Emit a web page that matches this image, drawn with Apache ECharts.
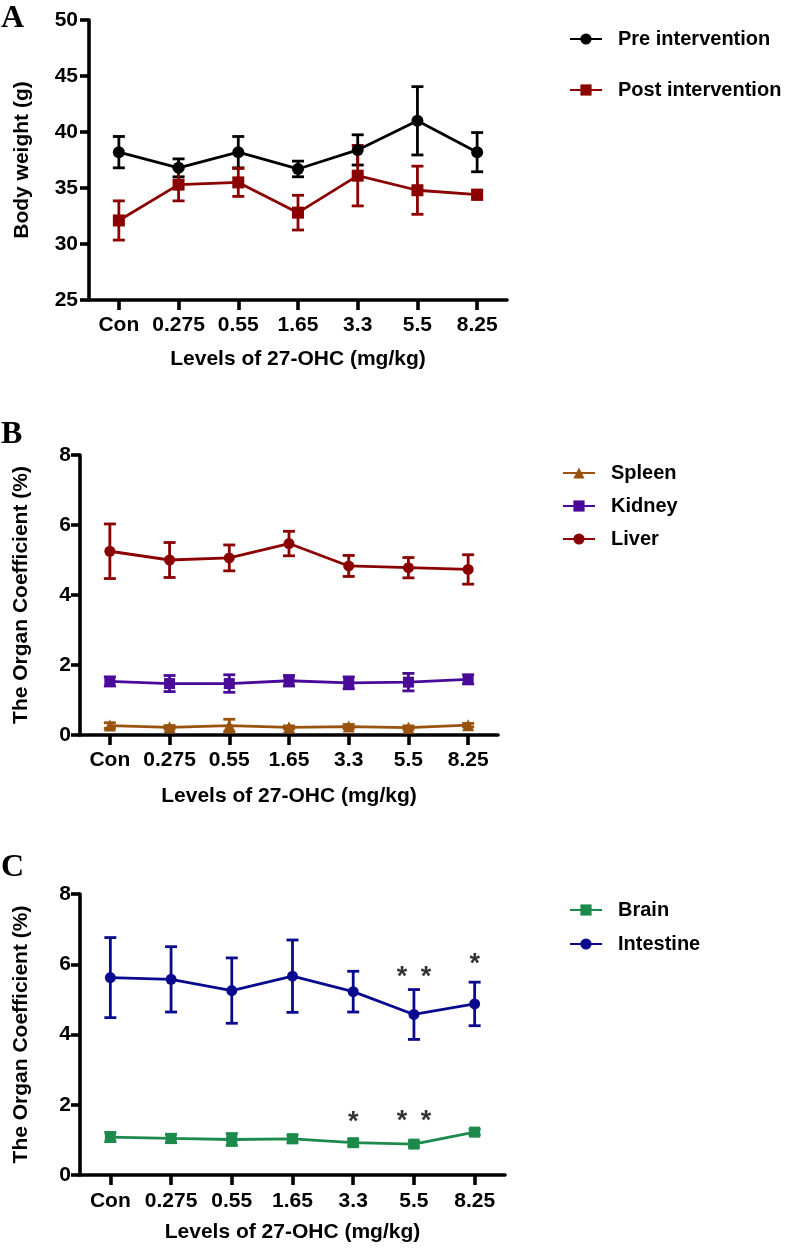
<!DOCTYPE html>
<html>
<head>
<meta charset="utf-8">
<script src="https://cdn.jsdelivr.net/npm/echarts@6/dist/echarts.min.js"></script>
<style>
html,body{margin:0;padding:0;background:#fff;}
#chart{width:787px;height:1250px;}
</style>
</head>
<body>
<div id="chart"></div>
<script>
// ---- data ----
var categories = ['Con', '0.275', '0.55', '1.65', '3.3', '5.5', '8.25'];
var weightTicks = [25, 30, 35, 40, 45, 50];
var organTicks = [0, 2, 4, 6, 8];

var preMean = [38.2, 36.8, 38.2, 36.7, 38.4, 41.0, 38.2];
var preSem  = [1.4, 0.8, 1.4, 0.7, 1.35, 3.05, 1.75];
var postMean = [32.1, 35.3, 35.5, 32.8, 36.1, 34.8, 34.4];
var postSem  = [1.75, 1.45, 1.25, 1.55, 2.7, 2.15, 0.4];

var spleenMean = [0.27, 0.22, 0.27, 0.22, 0.24, 0.21, 0.28];
var spleenSem  = [0.08, 0.05, 0.18, 0.04, 0.06, 0.05, 0.05];
var kidneyMean = [1.53, 1.47, 1.47, 1.55, 1.49, 1.51, 1.59];
var kidneySem  = [0.13, 0.23, 0.25, 0.15, 0.17, 0.25, 0.13];
var liverMean  = [5.25, 5.0, 5.06, 5.47, 4.83, 4.78, 4.73];
var liverSem   = [0.78, 0.5, 0.37, 0.35, 0.3, 0.29, 0.42];

var brainMean = [1.08, 1.04, 1.01, 1.03, 0.92, 0.88, 1.22];
var brainSem  = [0.13, 0.12, 0.17, 0.11, 0.09, 0.08, 0.08];
var intestineMean = [5.62, 5.57, 5.25, 5.66, 5.22, 4.57, 4.87];
var intestineSem  = [1.14, 0.93, 0.93, 1.03, 0.58, 0.71, 0.62];

// significance marks: [category index, y value, text]
var intestineStars = [[5, 5.78, '*\u2002*'], [6, 6.15, '*']];
var brainStars = [[4, 1.65, '*'], [5, 1.68, '*\u2002*']];

// ---- styling ----
var FONT = '"Liberation Sans", Arial, Helvetica, sans-serif';
var FS = 21;
var C_PRE = '#000000', C_POST = '#8B0000';
var C_SPLEEN = '#99530F', C_KIDNEY = '#4A0A99', C_LIVER = '#8B0000';
var C_BRAIN = '#1B8A4A', C_INTESTINE = '#0A0A8E';

function errData(mean, sem) {
  return mean.map(function (m, i) { return [i, m - sem[i], m + sem[i]]; });
}
function errSeries(mean, sem, color, idx) {
  return {
    type: 'custom', xAxisIndex: idx, yAxisIndex: idx, z: 2,
    encode: { x: 0, y: [1, 2] },
    data: errData(mean, sem),
    renderItem: function (params, api) {
      var x = api.value(0);
      var lo = api.coord([x, api.value(1)]);
      var hi = api.coord([x, api.value(2)]);
      var w = 6;
      var st = { stroke: color, lineWidth: 2.8 };
      return { type: 'group', children: [
        { type: 'line', shape: { x1: lo[0], y1: lo[1], x2: hi[0], y2: hi[1] }, style: st },
        { type: 'line', shape: { x1: lo[0] - w, y1: lo[1], x2: lo[0] + w, y2: lo[1] }, style: st },
        { type: 'line', shape: { x1: hi[0] - w, y1: hi[1], x2: hi[0] + w, y2: hi[1] }, style: st }
      ]};
    }
  };
}
function lineSeries(name, mean, color, symbol, size, idx) {
  return {
    name: name, type: 'line', xAxisIndex: idx, yAxisIndex: idx, z: 3,
    data: mean, symbol: symbol, symbolSize: size, showSymbol: true,
    lineStyle: { color: color, width: 2.8 },
    itemStyle: { color: color, borderWidth: 0 }
  };
}
function starSeries(stars, idx) {
  return {
    type: 'scatter', xAxisIndex: idx, yAxisIndex: idx, z: 4,
    data: stars, symbolSize: 1, itemStyle: { color: 'rgba(0,0,0,0)' },
    silent: true,
    label: { show: true, position: 'inside', offset: [0, 6],
      formatter: function (p) { return p.data[2]; },
      color: '#000', fontFamily: FONT, fontSize: 27, fontWeight: 'bold' }
  };
}

var axisLine = { show: true, lineStyle: { color: '#000', width: 3.6 } };
function xAx(idx, gap, margin) {
  return {
    type: 'category', gridIndex: idx, data: categories, boundaryGap: true,
    axisLine: axisLine,
    axisTick: { show: true, alignWithLabel: true, length: 10, lineStyle: { color: '#000', width: 3.6 } },
    axisLabel: { color: '#000', fontFamily: FONT, fontWeight: 'bold', fontSize: FS, margin: margin, interval: 0 },
    splitLine: { show: false },
    name: 'Levels of 27-OHC (mg/kg)', nameLocation: 'middle', nameGap: gap,
    nameTextStyle: { color: '#000', fontFamily: FONT, fontWeight: 'bold', fontSize: FS }
  };
}
function yAx(idx, ticks, name, gap, margin) {
  return {
    type: 'value', gridIndex: idx, min: ticks[0], max: ticks[ticks.length - 1],
    interval: ticks[1] - ticks[0],
    axisLine: axisLine,
    axisTick: { show: true, length: 9, lineStyle: { color: '#000', width: 3.6 } },
    axisLabel: { color: '#000', fontFamily: FONT, fontWeight: 'bold', fontSize: FS, margin: margin },
    splitLine: { show: false },
    name: name, nameLocation: 'middle', nameGap: gap, nameRotate: 90,
    nameTextStyle: { color: '#000', fontFamily: FONT, fontWeight: 'bold', fontSize: FS }
  };
}
function legend(names, left, top, gap) {
  return {
    data: names, orient: 'vertical', left: left, top: top, itemGap: gap,
    itemWidth: 32, itemHeight: 14, padding: 0,
    textStyle: { color: '#000', fontFamily: FONT, fontWeight: 'bold', fontSize: 20, padding: [0, 0, 0, 11] }
  };
}
function letter(t, top) {
  return { text: t, left: 1, top: top, padding: 0,
    textStyle: { color: '#000', fontFamily: '"Liberation Serif", "Times New Roman", serif', fontWeight: 'bold', fontSize: 32 } };
}

var option = {
  animation: false,
  backgroundColor: '#fff',
  title: [letter('A', 3), letter('B', 419), letter('C', 852)],
  grid: [
    { left: 89, top: 20, width: 418, height: 280 },
    { left: 80, top: 455, width: 418, height: 280 },
    { left: 80, top: 894, width: 425, height: 281 }
  ],
  xAxis: [xAx(0, 49, 15), xAx(1, 51, 15), xAx(2, 47, 16)],
  yAxis: [
    yAx(0, weightTicks, 'Body weight (g)', 56, 11),
    yAx(1, organTicks, 'The Organ Coefficient (%)', 48, 9),
    yAx(2, organTicks, 'The Organ Coefficient (%)', 48, 9)
  ],
  legend: [
    legend(['Pre intervention', 'Post intervention'], 569, 29, 31),
    legend(['Spleen', 'Kidney', 'Liver'], 562, 463, 13),
    legend(['Brain', 'Intestine'], 569, 900, 14)
  ],
  series: [
    errSeries(preMean, preSem, C_PRE, 0),
    errSeries(postMean, postSem, C_POST, 0),
    lineSeries('Pre intervention', preMean, C_PRE, 'circle', 12, 0),
    lineSeries('Post intervention', postMean, C_POST, 'rect', 12, 0),

    errSeries(spleenMean, spleenSem, C_SPLEEN, 1),
    errSeries(kidneyMean, kidneySem, C_KIDNEY, 1),
    errSeries(liverMean, liverSem, C_LIVER, 1),
    lineSeries('Spleen', spleenMean, C_SPLEEN, 'triangle', 12, 1),
    lineSeries('Kidney', kidneyMean, C_KIDNEY, 'rect', 11, 1),
    lineSeries('Liver', liverMean, C_LIVER, 'circle', 11, 1),

    errSeries(brainMean, brainSem, C_BRAIN, 2),
    errSeries(intestineMean, intestineSem, C_INTESTINE, 2),
    lineSeries('Brain', brainMean, C_BRAIN, 'rect', 11, 2),
    lineSeries('Intestine', intestineMean, C_INTESTINE, 'circle', 11, 2),
    starSeries(intestineStars, 2),
    starSeries(brainStars, 2)
  ]
};

var chart = echarts.init(document.getElementById('chart'), null, { renderer: 'canvas' });
chart.setOption(option);
</script>
</body>
</html>
